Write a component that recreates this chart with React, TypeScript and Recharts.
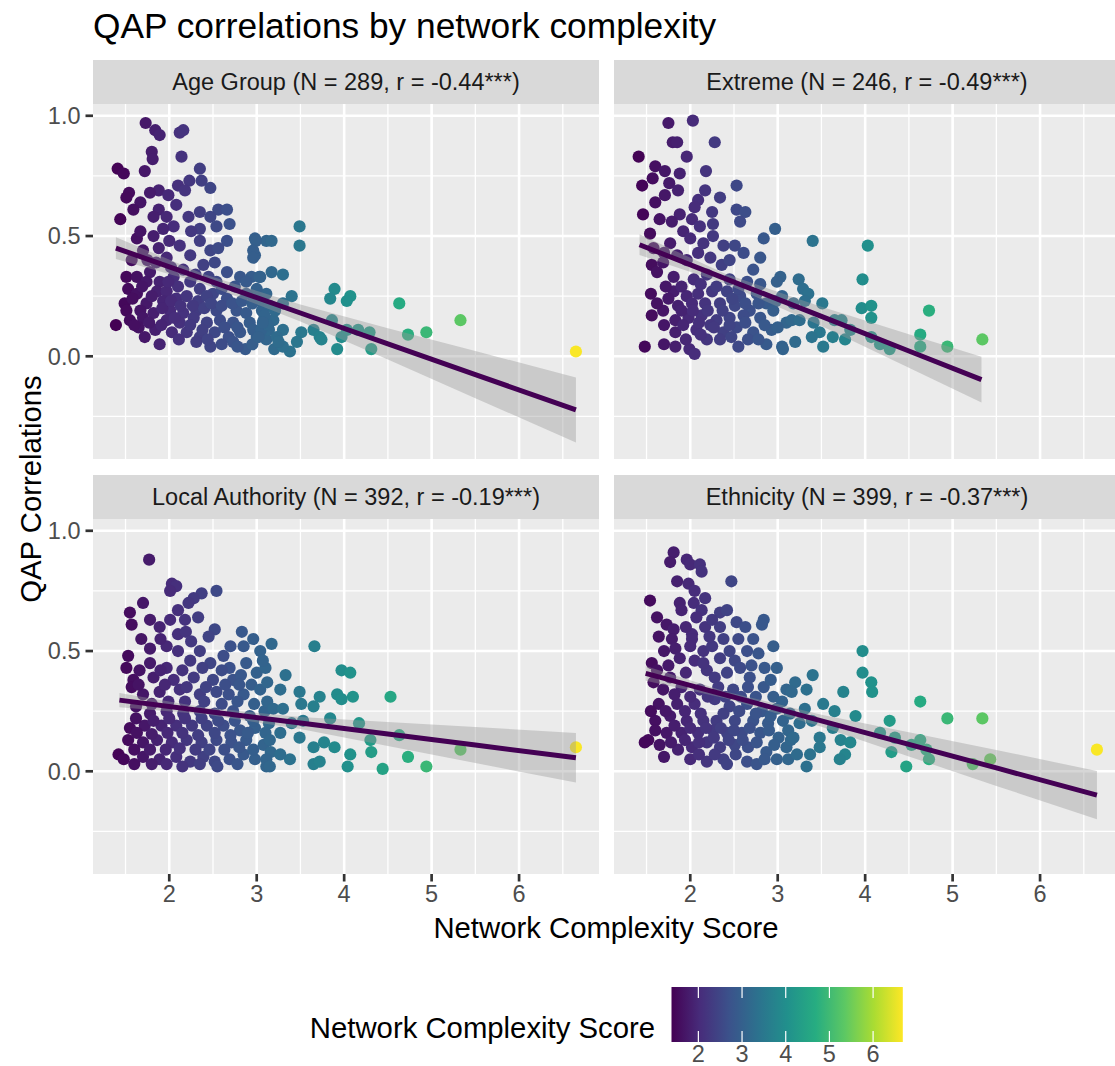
import { ComposedChart, Scatter, Line, Area, XAxis, YAxis, ReferenceLine, ReferenceArea } from 'recharts'

const FONT = '"Liberation Sans", Arial, Helvetica, sans-serif'

// panel geometry (px)
const PANEL_W = 506
const PANEL_H = 355
const Y_AXIS_W = 93
const X_AXIS_H = 45
const TOP_ROW = 104
const BOTTOM_ROW = 519
const LEFT_COL = 93
const RIGHT_COL = 614

const X_DOMAIN: [number, number] = [1.128, 6.914]
const Y_DOMAIN: [number, number] = [-0.427, 1.049]
const X_TICKS = [2, 3, 4, 5, 6]
const X_MINOR = [1.5, 2.5, 3.5, 4.5, 5.5, 6.5]
const Y_TICKS = [0, 0.5, 1]
const Y_MINOR = [-0.25, 0.25, 0.75]

const COLOR_MIN = 1.385
const COLOR_MAX = 6.68
const VIRIDIS = ['#440154', '#472D7B', '#3B528B', '#2C728E', '#21908C', '#27AD81', '#5DC863', '#AADC32', '#FDE725']

// Age Group points [complexity, correlation]
const AGE_POINTS = [
  [1.73, 0.97], [1.84, 0.94], [1.89, 0.92], [2.12, 0.93], [2.16, 0.94], [1.8, 0.85], [1.81, 0.82], [2.14, 0.83],
  [1.41, 0.78], [1.48, 0.76], [1.72, 0.77], [2.35, 0.78], [2.23, 0.73], [2.37, 0.73], [2.47, 0.7], [2.1, 0.71],
  [2.18, 0.69], [1.88, 0.69], [1.78, 0.68], [1.54, 0.68], [1.51, 0.66], [1.67, 0.64], [1.99, 0.67], [2.08, 0.63],
  [1.59, 0.61], [1.88, 0.61], [1.44, 0.57], [2.22, 0.58], [2.35, 0.6], [2.56, 0.61], [2.66, 0.61], [2.69, 0.55],
  [2.47, 0.58], [1.82, 0.58], [1.97, 0.58], [2.05, 0.54], [1.93, 0.53], [2.35, 0.53], [2.54, 0.54], [1.63, 0.49],
  [1.82, 0.5], [2.12, 0.46], [2.35, 0.48], [2.66, 0.48], [2.47, 0.44], [2.98, 0.49], [3.11, 0.48], [2.98, 0.42],
  [1.57, 0.4], [1.7, 0.44], [1.97, 0.41], [2.24, 0.42], [2.39, 0.38], [2.52, 0.39], [2.66, 0.35], [2.81, 0.33],
  [2.94, 0.33], [3.04, 0.33], [1.51, 0.33], [1.63, 0.33], [1.78, 0.35], [1.74, 0.31], [1.89, 0.31], [2.05, 0.33],
  [2.16, 0.36], [2.24, 0.31], [2.35, 0.28], [2.54, 0.31], [2.5, 0.26], [2.88, 0.31], [3.0, 0.27], [3.11, 0.26],
  [1.53, 0.28], [1.63, 0.26], [1.86, 0.27], [1.97, 0.27], [2.08, 0.24], [2.2, 0.25], [2.33, 0.23], [2.43, 0.25],
  [2.66, 0.24], [1.49, 0.22], [1.74, 0.22], [1.93, 0.23], [1.51, 0.19], [1.67, 0.19], [1.82, 0.18], [2.01, 0.19],
  [2.16, 0.18], [2.31, 0.19], [2.54, 0.19], [2.77, 0.19], [2.88, 0.18], [3.06, 0.19], [1.55, 0.15], [1.7, 0.16],
  [1.97, 0.15], [2.12, 0.14], [2.28, 0.16], [2.43, 0.14], [2.58, 0.15], [2.73, 0.14], [2.92, 0.14], [3.08, 0.15],
  [1.39, 0.13], [1.65, 0.12], [1.84, 0.11], [2.03, 0.1], [2.2, 0.1], [2.35, 0.08], [2.52, 0.1], [2.68, 0.08],
  [2.81, 0.1], [3.0, 0.08], [1.89, 0.05], [2.31, 0.06], [2.47, 0.04], [2.73, 0.06], [2.87, 0.03], [3.11, 0.07],
  [1.58, 0.24], [1.69, 0.29], [1.8, 0.25], [1.92, 0.2], [2.02, 0.23], [2.13, 0.21], [2.27, 0.21], [2.4, 0.2],
  [2.48, 0.22], [2.6, 0.21], [2.72, 0.22], [2.83, 0.23], [2.95, 0.22], [3.06, 0.23], [1.6, 0.13], [1.77, 0.14],
  [1.91, 0.13], [2.06, 0.16], [2.24, 0.13], [2.38, 0.11], [2.63, 0.12], [2.78, 0.12], [2.96, 0.11], [3.14, 0.11],
  [1.72, 0.08], [2.11, 0.07], [2.44, 0.07], [2.6, 0.05], [2.95, 0.05], [1.85, 0.39], [2.02, 0.37], [2.3, 0.34],
  [2.45, 0.33], [2.6, 0.28], [2.75, 0.29], [2.88, 0.26], [2.1, 0.29], [1.99, 0.31], [1.88, 0.45], [2.0, 0.48],
  [2.25, 0.52], [2.56, 0.45], [1.67, 0.52], [1.75, 0.4], [3.15, 0.21], [3.05, 0.11], [3.2, 0.03], [2.78, 0.04],
  [3.49, 0.54], [3.49, 0.46], [2.99, 0.48], [3.17, 0.48], [2.96, 0.44], [2.96, 0.41], [3.17, 0.35], [3.3, 0.34],
  [3.03, 0.33], [3.0, 0.28], [3.4, 0.25], [3.3, 0.22], [3.89, 0.28], [3.84, 0.24], [4.07, 0.25], [4.03, 0.23],
  [4.63, 0.22], [5.33, 0.15], [4.94, 0.1], [4.73, 0.09], [6.65, 0.02], [3.86, 0.15], [3.65, 0.11], [3.72, 0.08],
  [3.74, 0.07], [3.97, 0.08], [4.03, 0.11], [4.16, 0.11], [4.29, 0.1], [4.31, 0.03], [3.92, 0.03], [3.51, 0.1],
  [3.46, 0.06], [3.38, 0.02], [3.3, 0.04], [3.19, 0.15], [3.09, 0.17], [3.3, 0.11], [3.23, 0.08], [3.13, 0.13],
  [3.02, 0.08], [3.21, 0.19], [3.07, 0.14], [3.25, 0.06],
]

// Extreme points
const EXTREME_POINTS = [
  [1.75, 0.97], [2.03, 0.98], [1.8, 0.89], [1.85, 0.89], [2.28, 0.89], [1.41, 0.83], [1.96, 0.83], [1.6, 0.79],
  [1.71, 0.77], [1.57, 0.74], [1.88, 0.76], [2.18, 0.77], [1.45, 0.71], [1.76, 0.72], [1.86, 0.69], [1.71, 0.67],
  [2.53, 0.71], [2.17, 0.69], [2.09, 0.65], [2.34, 0.66], [1.6, 0.64], [1.46, 0.59], [1.88, 0.59], [1.65, 0.57],
  [1.79, 0.56], [2.02, 0.57], [2.11, 0.54], [2.26, 0.55], [2.53, 0.61], [2.63, 0.6], [2.57, 0.56], [2.97, 0.53],
  [2.84, 0.49], [1.54, 0.51], [1.92, 0.52], [1.77, 0.47], [2.0, 0.49], [2.26, 0.5], [2.38, 0.46], [2.51, 0.46],
  [2.61, 0.43], [2.09, 0.43], [1.96, 0.4], [2.23, 0.41], [1.56, 0.38], [1.69, 0.39], [2.36, 0.38], [2.72, 0.36],
  [3.03, 0.33], [2.99, 0.31], [1.62, 0.35], [1.81, 0.33], [2.04, 0.32], [2.19, 0.34], [2.45, 0.32], [2.65, 0.31],
  [1.55, 0.26], [1.81, 0.27], [1.96, 0.25], [2.09, 0.26], [2.25, 0.27], [2.42, 0.27], [2.57, 0.25], [2.76, 0.26],
  [2.87, 0.22], [3.05, 0.25], [1.69, 0.19], [1.86, 0.21], [2.02, 0.22], [2.17, 0.22], [2.34, 0.22], [2.51, 0.21],
  [2.68, 0.19], [2.95, 0.19], [1.56, 0.17], [1.83, 0.15], [1.98, 0.16], [2.13, 0.17], [2.3, 0.15], [2.45, 0.16],
  [2.61, 0.17], [2.8, 0.16], [3.1, 0.14], [1.83, 0.1], [2.07, 0.11], [2.23, 0.13], [2.38, 0.1], [2.53, 0.12],
  [2.72, 0.1], [2.93, 0.11], [1.48, 0.04], [1.83, 0.04], [1.99, 0.03], [2.05, 0.01], [2.19, 0.07], [2.34, 0.07],
  [2.55, 0.04], [2.87, 0.05], [3.05, 0.04], [2.66, 0.07],
  [1.62, 0.22], [1.75, 0.24], [1.9, 0.19], [2.03, 0.19], [2.2, 0.19], [2.37, 0.19], [2.48, 0.24], [2.63, 0.22],
  [2.78, 0.22], [2.98, 0.23], [1.7, 0.13], [1.92, 0.13], [2.1, 0.14], [2.27, 0.12], [2.45, 0.13], [2.63, 0.14],
  [2.85, 0.13], [3.0, 0.12], [1.95, 0.07], [2.12, 0.09], [2.47, 0.08], [2.78, 0.07], [1.7, 0.05], [1.72, 0.29],
  [1.9, 0.29], [2.12, 0.3], [2.3, 0.29], [2.55, 0.28], [2.8, 0.3], [1.7, 0.43], [1.85, 0.42], [2.15, 0.47],
  [2.45, 0.4], [2.8, 0.41], [2.05, 0.62], [2.25, 0.6], [1.58, 0.45],
  [3.4, 0.48], [4.03, 0.46], [3.97, 0.32], [3.24, 0.32], [3.29, 0.28], [3.35, 0.26], [3.31, 0.23], [3.51, 0.22],
  [3.18, 0.22], [3.16, 0.15], [3.25, 0.15], [3.41, 0.14], [3.48, 0.1], [3.65, 0.15], [3.73, 0.15], [3.63, 0.08],
  [3.77, 0.07], [3.2, 0.06], [3.39, 0.08], [3.52, 0.04], [3.06, 0.03], [3.96, 0.2], [4.07, 0.21], [4.07, 0.16],
  [4.07, 0.08], [4.17, 0.05], [4.28, 0.03], [4.73, 0.19], [4.63, 0.09], [4.63, 0.04], [4.94, 0.04], [5.34, 0.07],
  [3.83, 0.11],
]

// Local Authority points
const LA_POINTS = [
  [1.77, 0.88], [2.03, 0.78], [2.08, 0.77], [2.01, 0.75], [1.7, 0.7], [2.54, 0.75], [2.37, 0.74], [2.28, 0.72],
  [2.22, 0.7], [1.55, 0.66], [1.57, 0.61], [1.78, 0.63], [1.89, 0.6], [2.01, 0.63], [2.1, 0.67], [2.18, 0.63],
  [2.33, 0.64], [2.1, 0.57], [2.19, 0.58], [2.52, 0.59], [2.83, 0.58], [2.96, 0.55], [1.53, 0.48], [1.51, 0.43],
  [1.78, 0.51], [1.97, 0.52], [2.1, 0.5], [2.35, 0.5], [2.62, 0.48], [2.85, 0.52], [3.04, 0.5], [1.78, 0.45],
  [1.97, 0.43], [2.24, 0.46], [2.47, 0.45], [2.69, 0.43], [2.88, 0.45], [3.0, 0.41], [1.59, 0.38], [1.57, 0.35],
  [1.82, 0.39], [2.05, 0.38], [2.28, 0.39], [2.5, 0.38], [2.73, 0.38], [2.94, 0.36], [1.7, 0.32], [1.89, 0.33],
  [2.12, 0.34], [2.35, 0.32], [2.54, 0.33], [2.68, 0.32], [2.85, 0.32], [3.04, 0.34], [1.78, 0.24], [1.97, 0.25],
  [2.16, 0.24], [2.35, 0.25], [2.52, 0.24], [2.73, 0.25], [2.92, 0.23], [3.09, 0.25], [1.55, 0.18], [1.72, 0.19],
  [1.91, 0.19], [2.08, 0.19], [2.26, 0.19], [2.43, 0.19], [2.62, 0.19], [2.81, 0.17], [2.98, 0.18], [1.53, 0.13],
  [1.7, 0.12], [1.86, 0.13], [2.03, 0.12], [2.2, 0.13], [2.37, 0.12], [2.54, 0.13], [2.71, 0.12], [2.88, 0.13],
  [3.08, 0.11], [1.42, 0.07], [1.48, 0.05], [1.7, 0.06], [1.89, 0.05], [2.08, 0.06], [2.24, 0.04], [2.39, 0.06],
  [2.52, 0.04], [2.69, 0.05], [2.85, 0.07], [2.98, 0.05], [3.11, 0.02], [1.97, 0.03], [2.35, 0.03],
  [1.62, 0.27], [1.8, 0.28], [1.99, 0.29], [2.18, 0.29], [2.4, 0.29], [2.6, 0.28], [2.78, 0.29], [2.97, 0.28],
  [3.12, 0.29], [1.62, 0.22], [1.82, 0.21], [2.0, 0.22], [2.18, 0.22], [2.37, 0.22], [2.56, 0.21], [2.75, 0.21],
  [2.96, 0.21], [3.14, 0.2], [1.63, 0.16], [1.8, 0.155], [1.98, 0.16], [2.15, 0.16], [2.33, 0.15], [2.52, 0.16],
  [2.7, 0.15], [2.9, 0.16], [3.1, 0.16], [1.6, 0.09], [1.78, 0.09], [1.96, 0.09], [2.12, 0.095], [2.3, 0.09],
  [2.46, 0.09], [2.63, 0.09], [2.8, 0.1], [2.96, 0.09], [3.16, 0.08], [1.6, 0.03], [1.8, 0.03], [2.15, 0.02],
  [2.55, 0.02], [2.78, 0.03], [1.66, 0.42], [1.9, 0.42], [2.15, 0.42], [2.38, 0.43], [2.6, 0.42], [2.82, 0.4],
  [1.65, 0.36], [1.95, 0.36], [2.2, 0.35], [2.42, 0.35], [2.64, 0.36], [2.8, 0.36], [1.68, 0.55], [1.9, 0.55],
  [2.25, 0.54], [2.45, 0.56], [2.7, 0.52], [3.1, 0.43], [3.12, 0.37],
  [3.17, 0.53], [3.66, 0.52], [3.07, 0.46], [3.33, 0.4], [3.97, 0.42], [4.07, 0.41], [3.27, 0.34], [3.49, 0.33],
  [4.53, 0.31], [3.72, 0.31], [3.65, 0.27], [3.51, 0.28], [3.92, 0.32], [3.97, 0.3], [4.1, 0.31], [3.19, 0.26],
  [3.3, 0.26], [3.84, 0.22], [4.17, 0.2], [3.53, 0.21], [3.4, 0.2], [3.49, 0.14], [3.27, 0.16], [3.15, 0.13],
  [4.3, 0.13], [4.63, 0.15], [3.77, 0.12], [3.65, 0.1], [3.89, 0.1], [5.33, 0.09], [6.65, 0.1], [4.31, 0.08],
  [4.07, 0.07], [4.73, 0.06], [3.11, 0.05], [3.38, 0.05], [3.65, 0.03], [3.72, 0.04], [4.04, 0.02], [4.44, 0.01],
  [4.94, 0.02], [3.15, 0.02], [3.27, 0.07],
]

// Ethnicity points
const ETHNICITY_POINTS = [
  [1.81, 0.91], [1.77, 0.87], [1.96, 0.88], [2.0, 0.86], [2.11, 0.86], [2.13, 0.83], [2.47, 0.79], [1.54, 0.71],
  [1.85, 0.79], [1.98, 0.78], [2.05, 0.75], [2.17, 0.72], [1.88, 0.7], [1.9, 0.67], [2.04, 0.7], [2.13, 0.67],
  [2.34, 0.66], [2.42, 0.67], [1.62, 0.64], [1.73, 0.61], [1.81, 0.59], [2.07, 0.64], [2.17, 0.6], [2.34, 0.6],
  [2.53, 0.62], [2.63, 0.6], [2.84, 0.63], [2.82, 0.61], [1.64, 0.56], [1.79, 0.55], [2.02, 0.57], [2.02, 0.55],
  [2.38, 0.55], [2.95, 0.52], [1.83, 0.51], [2.15, 0.5], [2.25, 0.52], [2.45, 0.5], [2.65, 0.5], [2.78, 0.49],
  [1.88, 0.47], [2.05, 0.46], [2.34, 0.47], [2.51, 0.46], [1.56, 0.45], [2.85, 0.43], [2.99, 0.43], [2.19, 0.42],
  [2.57, 0.43], [2.68, 0.39], [2.28, 0.39], [1.77, 0.39], [1.69, 0.34], [1.9, 0.35], [2.11, 0.34], [2.32, 0.35],
  [2.49, 0.34], [2.66, 0.35], [2.84, 0.35], [2.95, 0.31], [3.1, 0.34], [1.64, 0.28], [1.85, 0.28], [2.05, 0.28],
  [2.28, 0.3], [2.45, 0.27], [2.65, 0.28], [2.82, 0.25], [2.99, 0.26], [1.6, 0.21], [1.77, 0.23], [1.96, 0.21],
  [2.15, 0.21], [2.3, 0.21], [2.51, 0.21], [2.72, 0.21], [2.89, 0.2], [3.06, 0.21], [1.73, 0.16], [1.9, 0.16],
  [2.09, 0.16], [2.26, 0.17], [2.42, 0.16], [2.59, 0.16], [2.8, 0.16], [3.01, 0.14], [1.52, 0.13], [1.48, 0.12],
  [1.86, 0.09], [2.02, 0.1], [2.19, 0.12], [2.34, 0.1], [2.51, 0.11], [2.66, 0.1], [2.87, 0.08], [3.1, 0.1],
  [2.0, 0.05], [2.19, 0.04], [2.38, 0.05], [2.65, 0.04], [2.76, 0.03], [2.99, 0.05],
  [1.62, 0.42], [1.75, 0.44], [1.95, 0.41], [2.15, 0.45], [2.42, 0.41], [2.7, 0.44], [2.92, 0.38], [1.58, 0.37],
  [1.82, 0.32], [2.0, 0.31], [2.2, 0.31], [2.4, 0.31], [2.58, 0.31], [2.75, 0.31], [3.05, 0.29], [1.55, 0.25],
  [1.72, 0.25], [1.94, 0.25], [2.12, 0.24], [2.38, 0.24], [2.56, 0.25], [2.75, 0.24], [2.92, 0.23], [3.14, 0.24],
  [1.6, 0.17], [1.82, 0.19], [2.0, 0.18], [2.18, 0.18], [2.35, 0.18], [2.5, 0.17], [2.68, 0.18], [2.9, 0.17],
  [3.12, 0.17], [1.65, 0.11], [1.78, 0.12], [1.94, 0.13], [2.1, 0.12], [2.27, 0.14], [2.44, 0.13], [2.6, 0.13],
  [2.76, 0.12], [2.96, 0.11], [3.15, 0.13], [1.7, 0.06], [2.1, 0.07], [2.28, 0.07], [2.52, 0.07], [2.85, 0.05],
  [3.12, 0.05], [2.42, 0.03], [1.7, 0.5], [2.0, 0.52], [2.22, 0.56], [2.55, 0.55], [2.72, 0.55], [1.95, 0.6],
  [2.25, 0.63],
  [3.97, 0.5], [3.97, 0.41], [4.07, 0.37], [4.08, 0.33], [3.4, 0.4], [3.2, 0.37], [3.33, 0.34], [3.75, 0.33],
  [3.16, 0.33], [4.63, 0.29], [3.52, 0.28], [3.31, 0.26], [3.65, 0.25], [3.89, 0.23], [4.94, 0.22], [5.34, 0.22],
  [4.28, 0.21], [3.63, 0.18], [4.17, 0.16], [4.34, 0.14], [4.63, 0.13], [4.53, 0.11], [4.7, 0.09], [4.73, 0.05],
  [4.3, 0.08], [5.43, 0.05], [5.23, 0.03], [4.47, 0.02], [6.65, 0.09], [3.72, 0.13], [3.83, 0.12], [3.48, 0.14],
  [3.48, 0.1], [3.37, 0.07], [3.33, 0.02], [3.77, 0.07], [3.71, 0.05], [3.18, 0.14], [3.25, 0.2], [3.39, 0.21],
  [3.22, 0.07],
]

// fitted lines with confidence band, read at a few x positions
const AGE_FIT_X = [1.39, 2.4, 3.5, 4.5, 5.5, 6.65]
const AGE_FIT = [0.45, 0.321, 0.18, 0.052, -0.076, -0.223]
const AGE_LO = [0.405, 0.301, 0.145, -0.013, -0.174, -0.358]
const AGE_HI = [0.495, 0.341, 0.215, 0.117, 0.022, -0.088]

const EXTREME_FIT_X = [1.42, 2.4, 3.5, 4.5, 5.33]
const EXTREME_FIT = [0.464, 0.323, 0.166, 0.022, -0.097]
const EXTREME_LO = [0.421, 0.303, 0.126, -0.048, -0.192]
const EXTREME_HI = [0.507, 0.343, 0.206, 0.092, -0.002]

const LA_FIT_X = [1.43, 2.4, 3.5, 4.5, 5.5, 6.65]
const LA_FIT = [0.296, 0.251, 0.201, 0.155, 0.109, 0.056]
const LA_LO = [0.266, 0.237, 0.176, 0.105, 0.034, -0.047]
const LA_HI = [0.326, 0.265, 0.226, 0.205, 0.184, 0.159]

const ETHNICITY_FIT_X = [1.49, 2.4, 3.5, 4.5, 5.5, 6.65]
const ETHNICITY_FIT = [0.407, 0.318, 0.21, 0.112, 0.014, -0.099]
const ETHNICITY_LO = [0.376, 0.304, 0.185, 0.062, -0.061, -0.199]
const ETHNICITY_HI = [0.438, 0.332, 0.235, 0.162, 0.089, 0.001]

const STRIPS = [
  'Age Group (N = 289, r = -0.44***)',
  'Extreme (N = 246, r = -0.49***)',
  'Local Authority (N = 392, r = -0.19***)',
  'Ethnicity (N = 399, r = -0.37***)',
]

const LEGEND_TICKS = [2, 3, 4, 5, 6]

function hexToRgb(h: string) {
  return [parseInt(h.slice(1, 3), 16), parseInt(h.slice(3, 5), 16), parseInt(h.slice(5, 7), 16)]
}

function viridis(v: number) {
  const t = Math.min(1, Math.max(0, (v - COLOR_MIN) / (COLOR_MAX - COLOR_MIN)))
  const p = t * (VIRIDIS.length - 1)
  const i = Math.min(VIRIDIS.length - 2, Math.floor(p))
  const f = p - i
  const a = hexToRgb(VIRIDIS[i])
  const b = hexToRgb(VIRIDIS[i + 1])
  const c = a.map((av, k) => Math.round(av + (b[k] - av) * f))
  return `rgb(${c[0]},${c[1]},${c[2]})`
}

const dot = (props: any) => {
  const { cx, cy, payload } = props
  if (cx == null || cy == null) return <g />
  return <circle cx={cx} cy={cy} r={6.1} fill={viridis(payload.x)} />
}

type PanelProps = {
  points: number[][]
  fitX: number[]
  fit: number[]
  lo: number[]
  hi: number[]
  left: number
  top: number
  showX: boolean
  showY: boolean
}

function Panel({ points, fitX, fit, lo, hi, left, top, showX, showY }: PanelProps) {
  const rows = fitX.map((x, i) => ({ x, fit: fit[i], band: [lo[i], hi[i]] }))
  const pts = points.map(([x, y]) => ({ x, y }))
  const width = PANEL_W + (showY ? Y_AXIS_W : 0)
  const height = PANEL_H + (showX ? X_AXIS_H : 0)
  const tickStyle = { fontSize: 23.5, fill: '#4D4D4D', fontFamily: FONT }
  return (
    <div style={{ position: 'absolute', left: showY ? left - Y_AXIS_W : left, top }}>
      <ComposedChart width={width} height={height} data={rows} margin={{ top: 0, right: 0, bottom: 0, left: 0 }}>
        <XAxis
          type="number"
          dataKey="x"
          domain={X_DOMAIN}
          ticks={X_TICKS}
          allowDataOverflow
          hide={!showX}
          height={showX ? X_AXIS_H : 0}
          axisLine={false}
          tickSize={7.5}
          tickMargin={4}
          tickLine={{ stroke: '#333333', strokeWidth: 2.7 }}
          tick={tickStyle}
          interval={0}
        />
        <YAxis
          type="number"
          dataKey="y"
          domain={Y_DOMAIN}
          ticks={Y_TICKS}
          allowDataOverflow
          hide={!showY}
          width={showY ? Y_AXIS_W : 0}
          axisLine={false}
          tickSize={7.5}
          tickMargin={5}
          tickLine={{ stroke: '#333333', strokeWidth: 2.7 }}
          tick={tickStyle}
          tickFormatter={(v: number) => v.toFixed(1)}
          interval={0}
        />
        <ReferenceArea
          x1={X_DOMAIN[0]} x2={X_DOMAIN[1]} y1={Y_DOMAIN[0]} y2={Y_DOMAIN[1]}
          fill="#EBEBEB" fillOpacity={1} stroke="none" zIndex={1}
        />
        {X_MINOR.map(v => <ReferenceLine key={`xm${v}`} x={v} stroke="#FFFFFF" strokeWidth={1.3} zIndex={2} />)}
        {Y_MINOR.map(v => <ReferenceLine key={`ym${v}`} y={v} stroke="#FFFFFF" strokeWidth={1.3} zIndex={2} />)}
        {X_TICKS.map(v => <ReferenceLine key={`xM${v}`} x={v} stroke="#FFFFFF" strokeWidth={2.6} zIndex={3} />)}
        {Y_TICKS.map(v => <ReferenceLine key={`yM${v}`} y={v} stroke="#FFFFFF" strokeWidth={2.6} zIndex={3} />)}
        <Scatter data={pts} dataKey="y" shape={dot} isAnimationActive={false} zIndex={50} />
        <Area dataKey="band" type="linear" fill="#999999" fillOpacity={0.4} stroke="none" isAnimationActive={false} zIndex={60} />
        <Line dataKey="fit" type="linear" stroke="#440154" strokeWidth={5} dot={false} activeDot={false} isAnimationActive={false} zIndex={70} />
      </ComposedChart>
    </div>
  )
}

function Strip({ label, left, top }: { label: string; left: number; top: number }) {
  return (
    <div
      style={{
        position: 'absolute', left, top, width: PANEL_W, height: 44, background: '#D9D9D9',
        display: 'flex', alignItems: 'center', justifyContent: 'center',
        fontFamily: FONT, fontSize: 23.5, color: '#1A1A1A', whiteSpace: 'nowrap',
      }}
    >
      {label}
    </div>
  )
}

export default function App() {
  const barLeft = 671.5
  const barRight = 902.8
  const barScale = (v: number) => barLeft + ((v - COLOR_MIN) / (COLOR_MAX - COLOR_MIN)) * (barRight - barLeft)
  return (
    <div style={{ position: 'absolute', left: 0, top: 0, width: 1115, height: 1066, overflow: 'hidden', background: '#FFFFFF' }}>
      <svg width={1115} height={1066} style={{ position: 'absolute', left: 0, top: 0 }} fontFamily={FONT}>
        <defs>
          <linearGradient id="viridisBar" x1="0" x2="1" y1="0" y2="0">
            {VIRIDIS.map((c, i) => <stop key={c} offset={i / (VIRIDIS.length - 1)} stopColor={c} />)}
          </linearGradient>
        </defs>
        <text x={93} y={38} fontSize={35.3} fill="#000000">QAP correlations by network complexity</text>
        <text x={606} y={938} fontSize={29.3} fill="#000000" textAnchor="middle">Network Complexity Score</text>
        <text x={0} y={0} fontSize={29.3} fill="#000000" textAnchor="middle" transform="translate(41,489) rotate(-90)">QAP Correlations</text>
        <text x={655} y={1038} fontSize={29.3} fill="#000000" textAnchor="end">Network Complexity Score</text>
        <rect x={barLeft} y={987} width={barRight - barLeft} height={55} fill="url(#viridisBar)" />
        {LEGEND_TICKS.map(v => (
          <g key={v}>
            <line x1={barScale(v)} x2={barScale(v)} y1={987} y2={998} stroke="#FFFFFF" strokeWidth={1.2} />
            <line x1={barScale(v)} x2={barScale(v)} y1={1031} y2={1042} stroke="#FFFFFF" strokeWidth={1.2} />
            <text x={barScale(v)} y={1062} fontSize={23.5} fill="#4D4D4D" textAnchor="middle">{v}</text>
          </g>
        ))}
      </svg>
      <Strip label={STRIPS[0]} left={LEFT_COL} top={60} />
      <Strip label={STRIPS[1]} left={RIGHT_COL} top={60} />
      <Strip label={STRIPS[2]} left={LEFT_COL} top={475} />
      <Strip label={STRIPS[3]} left={RIGHT_COL} top={475} />
      <Panel points={AGE_POINTS} fitX={AGE_FIT_X} fit={AGE_FIT} lo={AGE_LO} hi={AGE_HI} left={LEFT_COL} top={TOP_ROW} showX={false} showY />
      <Panel points={EXTREME_POINTS} fitX={EXTREME_FIT_X} fit={EXTREME_FIT} lo={EXTREME_LO} hi={EXTREME_HI} left={RIGHT_COL} top={TOP_ROW} showX={false} showY={false} />
      <Panel points={LA_POINTS} fitX={LA_FIT_X} fit={LA_FIT} lo={LA_LO} hi={LA_HI} left={LEFT_COL} top={BOTTOM_ROW} showX showY />
      <Panel points={ETHNICITY_POINTS} fitX={ETHNICITY_FIT_X} fit={ETHNICITY_FIT} lo={ETHNICITY_LO} hi={ETHNICITY_HI} left={RIGHT_COL} top={BOTTOM_ROW} showX showY={false} />
    </div>
  )
}
